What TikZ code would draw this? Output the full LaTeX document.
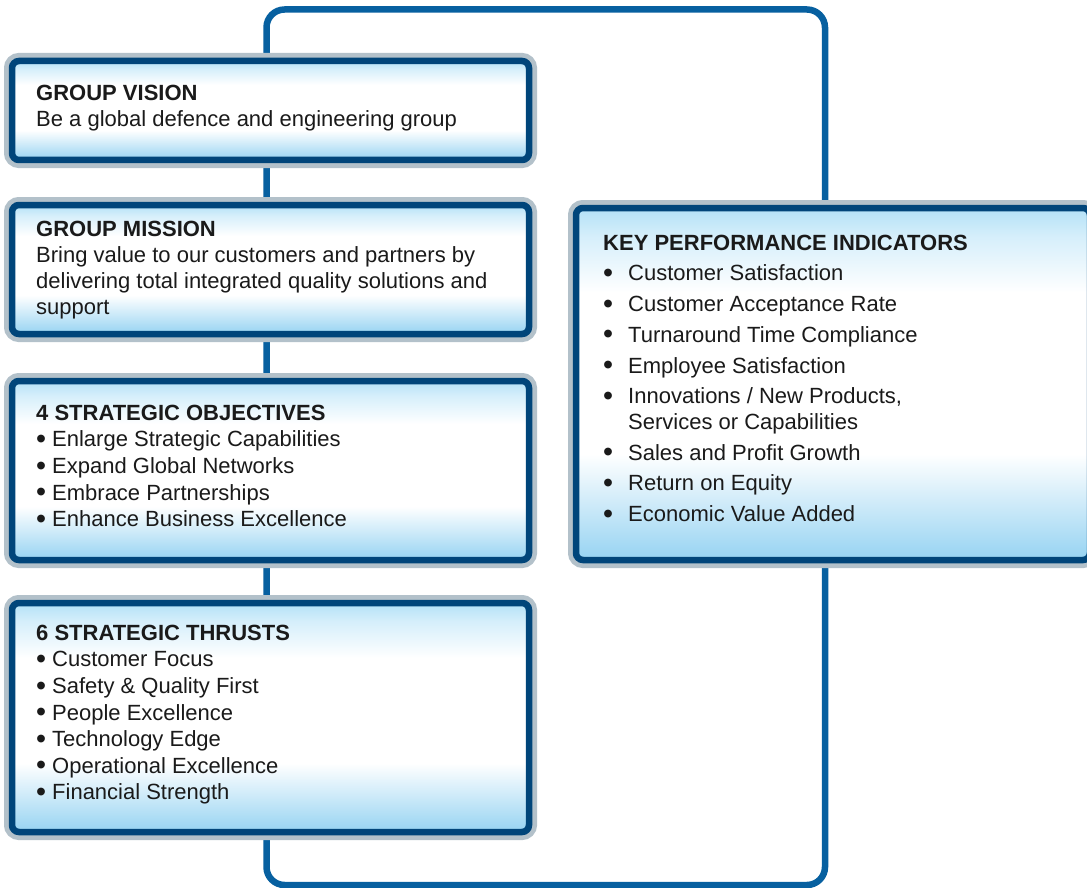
\documentclass[tikz,border=0pt]{standalone}
\usepackage{fontspec}
\setmainfont{Liberation Sans}

\definecolor{ringgray}{HTML}{B3C1CA}
\definecolor{edgeblue}{HTML}{00457A}
\definecolor{loopblue}{HTML}{0760A0}
\definecolor{skytop}{HTML}{B3E1F7}
\definecolor{skybottom}{HTML}{96D3F2}
\definecolor{inktext}{HTML}{1A1A1A}

% panel fill: blue at the bottom, white band, light blue at the top
% (the path is mapped onto the 25bp--75bp range of the shading)
\pgfdeclareverticalshading{panelshade}{100bp}{%
  color(0bp)=(skybottom); color(25bp)=(skybottom);
  color(28bp)=(skybottom!80!white); color(40bp)=(white);
  color(63bp)=(white); color(71bp)=(skytop!55!white);
  color(75bp)=(skytop); color(100bp)=(skytop)}

% enlarged list bullet
\newcommand{\bigdot}{\raisebox{-1.6pt}{\scalebox{1.3}{\textbullet}}}
\newcommand{\lbul}{\makebox[16pt][l]{\bigdot}}
\newcommand{\kbul}{\makebox[25pt][l]{\bigdot}}

\tikzset{
  panel/.style={rectangle, rounded corners=7pt, inner sep=0pt, outer sep=0pt,
    preaction={draw=ringgray, line width=16pt},
    shading=panelshade, draw=edgeblue, line width=6.5pt},
  paneltext/.style={anchor=north west, align=left, inner sep=0pt,
    text=inktext, font=\fontsize{22pt}{26.6pt}\selectfont},
  kpitext/.style={paneltext, font=\fontsize{22pt}{25.6pt}\selectfont},
  frameline/.style={draw=loopblue, line width=6.5pt, rounded corners=18pt}
}

\begin{document}
\begin{tikzpicture}[x=1pt,y=-1pt]
  \path[use as bounding box, clip] (0,0) rectangle (1087,888);

  % the blue frame running behind all panels
  \coordinate (frameNW) at (266.5,9.5);
  \coordinate (frameSE) at (825,885);
  \path[frameline] (frameNW) rectangle (frameSE);

  % panels
  \node[panel, minimum width=517pt, minimum height=99pt]  (vision)     at (270.5,110.5) {};
  \node[panel, minimum width=517pt, minimum height=129pt] (mission)    at (270.5,269.5) {};
  \node[panel, minimum width=517pt, minimum height=179pt] (objectives) at (270.5,470.5) {};
  \node[panel, minimum width=517pt, minimum height=229pt] (thrusts)    at (270.5,717.5) {};
  \node[panel, minimum width=514pt, minimum height=352pt] (kpi)        at (833,384) {};

  % panel texts
  \node[paneltext] (visiontext) at (36,80) {\rule{0pt}{20pt}\textbf{GROUP VISION}\\
    Be a global defence and engineering group};

  \node[paneltext, font=\fontsize{22pt}{26pt}\selectfont] (missiontext) at (36,216.7) {\rule{0pt}{20pt}\textbf{GROUP MISSION}\\
    Bring value to our customers and partners by\\
    delivering total integrated quality solutions and\\
    support};

  \node[paneltext] (objectivestext) at (36,400) {\rule{0pt}{20pt}\textbf{4 STRATEGIC OBJECTIVES}\\
    \lbul Enlarge Strategic Capabilities\\
    \lbul Expand Global Networks\\
    \lbul Embrace Partnerships\\
    \lbul Enhance Business Excellence};

  \node[paneltext] (thruststext) at (36,620) {\rule{0pt}{20pt}\textbf{6 STRATEGIC THRUSTS}\\
    \lbul Customer Focus\\
    \lbul Safety \& Quality First\\
    \lbul People Excellence\\
    \lbul Technology Edge\\
    \lbul Operational Excellence\\
    \lbul Financial Strength};

  \node[kpitext] (kpitext) at (603,230) {\rule{0pt}{20pt}\textbf{KEY PERFORMANCE INDICATORS}\\[5.1pt]
    \kbul Customer Satisfaction\\[5.1pt]
    \kbul Customer Acceptance Rate\\[5.1pt]
    \kbul Turnaround Time Compliance\\[5.1pt]
    \kbul Employee Satisfaction\\[5.1pt]
    \kbul Innovations / New Products,\\
    \hspace*{25pt}Services or Capabilities\\[5.1pt]
    \kbul Sales and Profit Growth\\[5.1pt]
    \kbul Return on Equity\\[5.1pt]
    \kbul Economic Value Added};
\end{tikzpicture}
\end{document}
